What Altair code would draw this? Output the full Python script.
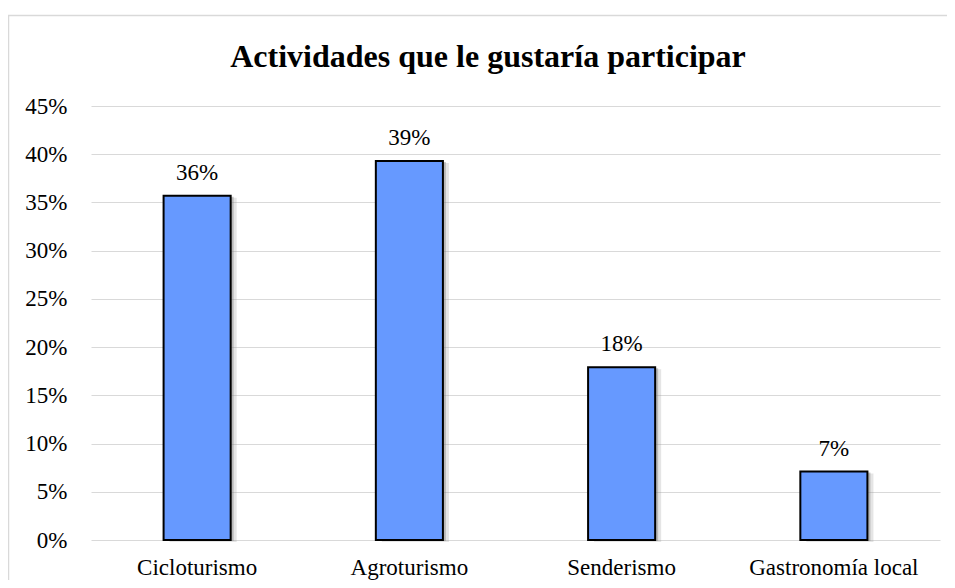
import altair as alt
import pandas as pd

categories = ["Cicloturismo", "Agroturismo", "Senderismo", "Gastronomía local"]
values = [0.357, 0.393, 0.179, 0.071]
labels = ["36%", "39%", "18%", "7%"]
title_text = ["Actividades que le gustaría participar"]

df = pd.DataFrame({"cat": categories, "val": values, "lab": labels})
tdf = pd.DataFrame({"t": title_text})

FONT = "Liberation Serif"
FS = 23

x = alt.X("cat:N", sort=categories, title=None,
          scale=alt.Scale(paddingInner=0.684, paddingOuter=0.342),
          axis=alt.Axis(labelAngle=0, domain=False, ticks=False, labelPadding=16,
                        labelFont=FONT, labelFontSize=FS, labelColor="#000000"))
y = alt.Y("val:Q", title=None,
          scale=alt.Scale(domain=[0, 0.45], nice=False),
          axis=alt.Axis(format=".0%", values=[i * 0.05 for i in range(10)],
                        domain=False, ticks=False, labelPadding=24,
                        labelFont=FONT, labelFontSize=FS, labelColor="#000000",
                        gridColor="#d9d9d9", gridWidth=1))

base = alt.Chart(df)

border = alt.Chart(tdf).mark_rect(fillOpacity=0, stroke="#d9d9d9", strokeWidth=1.5, clip=False).encode(
    x=alt.value(-82.5), x2=alt.value(900), y=alt.value(-90.5), y2=alt.value(600)
)
title = alt.Chart(tdf).mark_text(font=FONT, fontSize=32, fontWeight="bold", color="#000000",
                                 baseline="middle", align="center").encode(
    x=alt.value(397), y=alt.value(-49), text="t:N"
)

shadow2 = base.mark_bar(color="#999999", opacity=0.25, xOffset=6, yOffset=2).encode(x=x, y=y)
shadow = base.mark_bar(color="#777777", opacity=0.4, xOffset=3, yOffset=1).encode(x=x, y=y)
bars = base.mark_bar(color="#6699FF", stroke="#000000", strokeWidth=2).encode(x=x, y=y)
text = base.mark_text(font=FONT, fontSize=FS, dy=-23, color="#000000").encode(
    x=x, y=y, text="lab:N")

chart = alt.layer(border, title, shadow2, shadow, bars, text).properties(
    width=849, height=434,
    autosize=alt.AutoSizeParams(type="none"),
    padding={"left": 83, "top": 98, "right": 7, "bottom": 40},
).configure_view(stroke=None)

chart.save("out.html", embed_options={"renderer": "svg", "actions": False})
